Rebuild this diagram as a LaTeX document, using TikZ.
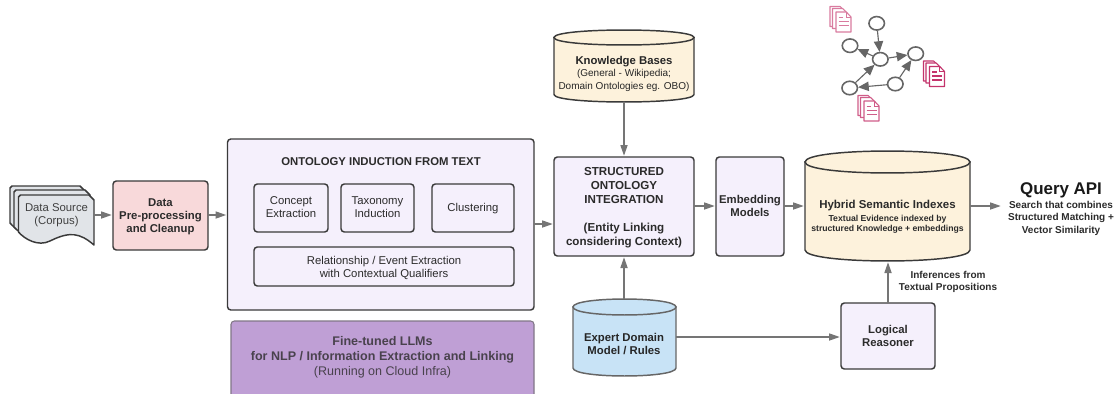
\documentclass[tikz,border=0pt]{standalone}
\usepackage{fontspec}
\setmainfont{Liberation Sans}
\usetikzlibrary{arrows.meta,shapes.geometric}
\definecolor{edgeC}{HTML}{666666}
\definecolor{lineC}{HTML}{3A3A3A}
\definecolor{txtC}{HTML}{2B2B2B}
\definecolor{lilacC}{HTML}{F5F0FC}
\definecolor{pinkC}{HTML}{F8D9DA}
\definecolor{creamC}{HTML}{FDF2DC}
\definecolor{blueC}{HTML}{C8E3F6}
\definecolor{docC}{HTML}{E1E4E8}
\definecolor{purpleC}{HTML}{BF9FD5}
\definecolor{iconC}{HTML}{C4346C}
\def\pxu{0.75pt}
\newcommand{\fs}[1]{\fontsize{#1pt}{#1pt}\selectfont}
\tikzset{
 x=0.75pt,y=-0.75pt,
 wh/.style 2 args={minimum width=#1*\pxu,minimum height=#2*\pxu,inner sep=0pt,outer sep=0pt,align=center},
 boxbase/.style={draw=lineC,line width=1.1pt,rounded corners=2.5pt,text=txtC,font=\fs{8.5},text depth=0pt},
 lilacbox/.style={boxbase,fill=lilacC},
 whitebox/.style={boxbase,fill=lilacC},
 pinkbox/.style={boxbase,fill=pinkC},
 llmbox/.style={draw=edgeC!70!purpleC,line width=0.8pt,rounded corners=2.5pt,fill=purpleC},
 flow/.style={draw=edgeC!90!white,line width=0.8pt,-{Triangle[length=8pt,width=5.4pt]},shorten >=1pt},
 gnode/.style={ellipse,draw=edgeC,line width=1.2pt,fill=white,minimum width=15.5*\pxu,minimum height=13.5*\pxu,inner sep=0pt,outer sep=0.5pt},
 gflow/.style={draw=edgeC,line width=0.85pt,-{Triangle[length=8pt,width=7pt]}},
 lbl/.style={align=center,inner sep=0pt,text=txtC},
}
% cylinder: name, x1,y1,x2,y2,ry,fill,line colour
\newcommand{\cylshape}[8]{%
 \path[fill=#7,draw=#8,line width=1.1pt]
   (#2,#3+#6) .. controls (#2,#3+#6*0.1) and (#4,#3+#6*0.1) .. (#4,#3+#6) -- (#4,#5-#6)
   .. controls (#4,#5+#6*0.33) and (#2,#5+#6*0.33) .. (#2,#5-#6) -- cycle;
 \path[draw=#8,line width=1.1pt,fill=#7]
   (#2,#3+#6) .. controls (#2,#3-#6*0.33) and (#4,#3-#6*0.33) .. (#4,#3+#6)
   .. controls (#4,#3+#6*2.33) and (#2,#3+#6*2.33) .. (#2,#3+#6) -- cycle;
 \coordinate (#1-nw) at (#2,#3);
 \coordinate (#1-se) at (#4,#5);
}
% document stack page
\newcommand{\docpage}[4]{%
 \path[draw=lineC,line width=1.1pt,fill=docC,line join=round]
   (#1+2,#2) -- (#1+#3-5,#2) -- (#1+#3,#2+5)
   -- (#1+#3,#2+#4)
   .. controls (#1+#3-14,#2+#4-12) and (#1+#3-24,#2+#4-14) .. (#1+#3-44,#2+#4-4)
   .. controls (#1+#3-56,#2+#4+2) and (#1+6,#2+#4-6) .. (#1,#2+#4-13)
   -- (#1,#2+2) -- cycle;
}
% small icon page
\newcommand{\iconpage}[3]{%
 \path[draw=iconC!#3!white,line width=0.8pt,fill=white,line join=round]
   (#1,#2) -- (#1+10,#2) -- (#1+15,#2+5) -- (#1+15,#2+20) -- (#1,#2+20) -- cycle;
}
\newcommand{\icon}[3]{%
 \iconpage{#1}{#2}{#3}
 \iconpage{#1+2.5}{#2+2}{#3}
 \iconpage{#1+6}{#2+5.5}{#3}
 \path[draw=iconC!#3!white,line width=0.6pt] (#1+16,#2+5.5) -- (#1+16,#2+10.5) -- (#1+21,#2+10.5);
 \path[draw=iconC!#3!white,line width=0.9pt]
   (#1+8.5,#2+11) -- (#1+13,#2+11)
   (#1+8.5,#2+15) -- (#1+18.5,#2+15)
   (#1+8.5,#2+19) -- (#1+18.5,#2+19);
}
\begin{document}
\begin{tikzpicture}
\useasboundingbox (0,0) rectangle (1116,393);
\clip (0,0) rectangle (1116,393);

% data source stack
\docpage{10}{186}{75}{50}
\docpage{14}{190}{76}{50}
\docpage{18.5}{195}{75.5}{50}
\node[wh={75}{50},lbl] (src) at (56.5,220) {};
\node[lbl,font=\fs{8.5},text=txtC!90!white] (srctext) at (56.5,215) {Data Source\\[1.2pt](Corpus)};

\node[pinkbox,wh={95}{69}] (pre) at (160.5,215.5) {\textbf{Data}\\[1.2pt]\textbf{Pre-processing}\\[1.2pt]\textbf{and Cleanup}};

% ontology induction
\node[lilacbox,wh={306.5}{171}] (onto) at (380.75,224.5) {};
\node[lbl,font=\bfseries\fs{8.5}] (ontotitle) at (381,162) {ONTOLOGY INDUCTION FROM TEXT};
\node[whitebox,wh={74}{48}] (concept) at (291,208) {\raisebox{0.75pt}{Concept}\\[1.2pt]\raisebox{0.75pt}{Extraction}};
\node[whitebox,wh={73}{48}] (taxo) at (377.5,208) {\raisebox{0.75pt}{Taxonomy}\\[1.2pt]\raisebox{0.75pt}{Induction}};
\node[whitebox,wh={82}{48}] (clust) at (473,208) {\raisebox{0.75pt}{Clustering}};
\node[whitebox,wh={260}{39}] (rel) at (384,266.5) {Relationship / Event Extraction\\[1.2pt]with Contextual Qualifiers};

\node[llmbox,wh={303}{90},anchor=north west] (llm) at (231,321) {};
\node[lbl,font=\fs{9.4},text=txtC!80!purpleC] (llmtext) at (382.5,357.5) {\textbf{Fine-tuned LLMs}\\[1.7pt]\textbf{for NLP / Information Extraction and Linking}\\[1.7pt](Running on Cloud Infra)};

% knowledge bases
\cylshape{kbs}{554}{30}{694}{102}{7.5}{creamC}{lineC}
\node[wh={140}{72},text=txtC] (kb) at (624,66) {};
\node[lbl,text=black!85!white] (kbtext) at (624,74) {\fs{8.5}\textbf{Knowledge Bases}\\[-3.0pt]\fs{7.5}(General - Wikipedia;\\[-2.4pt]\fs{7.5}Domain Ontologies eg. OBO)};

\node[lilacbox,wh={140}{99},font=\fs{8.7}] (struct) at (624,206.5) {\textbf{STRUCTURED}\\[1.9pt]\textbf{ONTOLOGY}\\[1.9pt]\textbf{INTEGRATION}\\[12.5pt]\textbf{(Entity Linking}\\[1.9pt]\textbf{considering Context)}};
\node[lilacbox,wh={68}{99}] (embed) at (750,206.5) {\raisebox{0.75pt}{\textbf{Embedding}}\\[1.2pt]\raisebox{0.75pt}{\textbf{Models}}};

% hybrid
\cylshape{hys}{805}{151}{970}{261}{11}{creamC}{lineC}
\node[wh={165}{110}] (hybrid) at (887.5,206) {};
\node[lbl] (hybridtext) at (887.5,216.5) {\fs{8.6}\textbf{Hybrid Semantic Indexes}\\[-2.4pt]\fs{6.5}\textbf{Textual Evidence indexed by}\\[-4.5pt]\fs{6.5}\textbf{structured Knowledge + embeddings}};

% query
\node[lbl,font=\bfseries\fs{12.7},text=black!90!white] (query) at (1061,190.5) {Query API};
\node[lbl,font=\bfseries\fs{7.5},anchor=north] (querytext) at (1061,201) {Search that combines\\[1.8pt]Structured Matching +\\[1.8pt]Vector Similarity};
\coordinate (queryin) at (1002,206);

% expert
\cylshape{exs}{573}{299}{676}{376}{8}{blueC}{edgeC}
\node[wh={103}{77}] (expert) at (624.5,337.5) {};
\node[lbl,font=\bfseries\fs{8.5},text=black!85!white] (experttext) at (624,344) {Expert Domain\\[1.2pt]Model / Rules};

\node[lilacbox,wh={94}{66}] (logic) at (888,336) {\textbf{Logical}\\[1.2pt]\textbf{Reasoner}};
\node[lbl,font=\bfseries\fs{7.5}] (inf) at (948,282) {Inferences from\\[1.4pt]Textual Propositions};

% connectors
\draw[flow] (src.east |- 0,215) -- (pre.west |- 0,215);
\draw[flow] (pre.east |- 0,215) -- (onto.west |- 0,215);
\draw[flow] (onto.east |- 0,224) -- (struct.west |- 0,224);
\draw[flow] (kb.south -| 624,0) -- (struct.north -| 624,0);
\draw[flow] (expert.north -| 624,0) -- (struct.south -| 624,0);
\draw[flow] (struct.east |- 0,206) -- (embed.west |- 0,206);
\draw[flow] (embed.east |- 0,206) -- (hybrid.west |- 0,206);
\draw[flow] (hybrid.east |- 0,206) -- (queryin);
\draw[flow] (expert.east |- 0,337) -- (logic.west |- 0,337);
\draw[flow] (logic.north) -- (hybrid.south -| logic.north);

% knowledge graph
\node[gnode] (g1) at (876.7,23.3) {};
\node[gnode] (g2) at (850,45.7) {};
\node[gnode] (g3) at (880.3,59.3) {};
\node[gnode] (g4) at (915.7,53.7) {};
\node[gnode] (g5) at (849.7,88) {};
\node[gnode] (g6) at (895.3,84) {};
\draw[gflow] (g1) -- (g3);
\draw[gflow] (g3) -- (g2);
\draw[gflow] (g3) -- (g4);
\draw[gflow] (g5) -- (g3);
\draw[gflow] (g6) -- (g4);
\draw[gflow] (g6) -- (g5);

\icon{830}{6.5}{65}
\icon{923.5}{61}{100}
\icon{858}{95.5}{80}
\end{tikzpicture}
\end{document}
